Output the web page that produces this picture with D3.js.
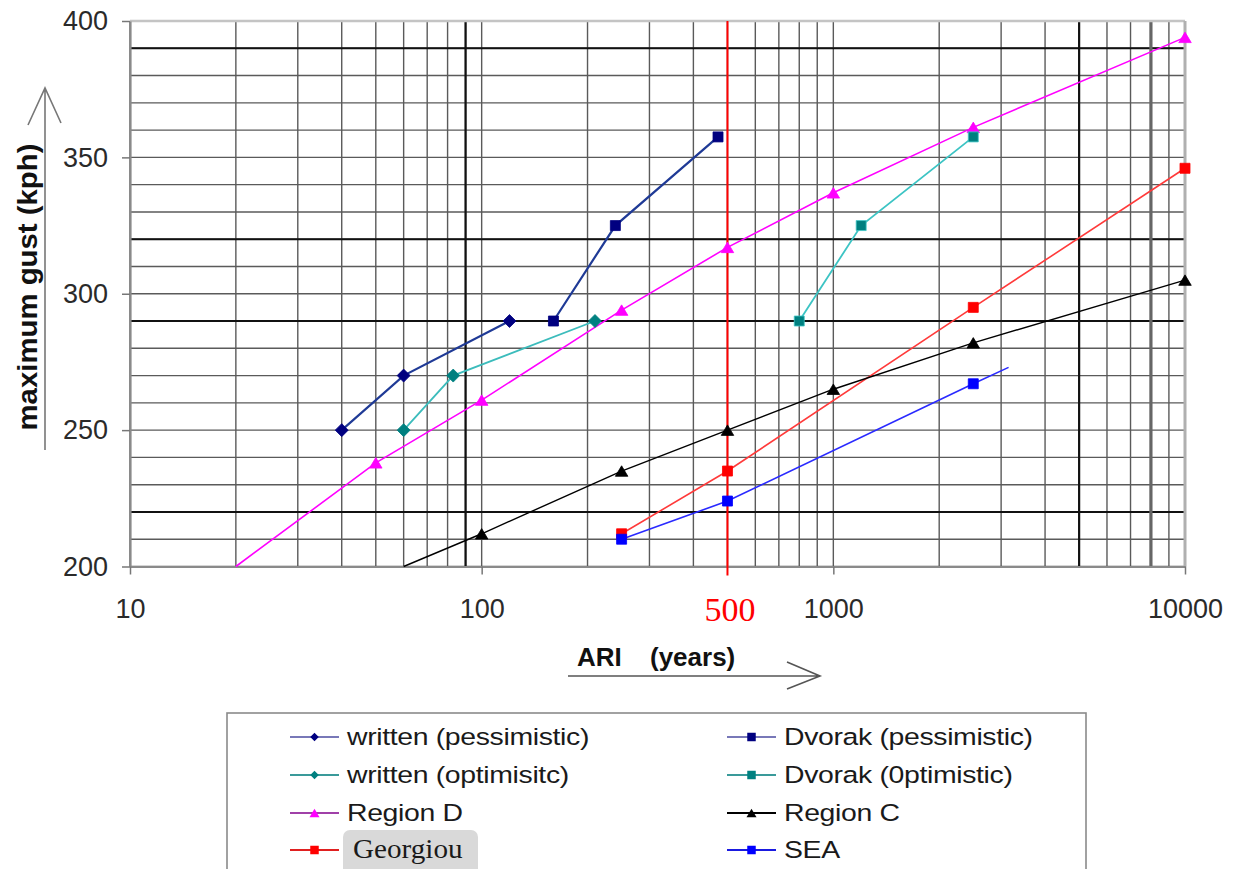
<!DOCTYPE html>
<html>
<head>
<meta charset="utf-8">
<script src="https://cdn.jsdelivr.net/npm/d3@7"></script>
<style>
  html, body { margin: 0; padding: 0; background: #fff; }
  svg { display: block; }
  .sans { font-family: Arial, "Liberation Sans", sans-serif; }
  .serif { font-family: "Times New Roman", "Liberation Serif", serif; }
</style>
</head>
<body>
<svg id="chart" width="1239" height="869"></svg>
<script>
// ARI (years) vs maximum gust (kph)
const writtenPessAri = [40, 60, 120]
const writtenPessGust = [250, 270, 290]
const writtenOptAri = [60, 83, 210]
const writtenOptGust = [250, 270, 290]
const dvorakPessAri = [160, 240, 470]
const dvorakPessGust = [290, 325, 357.5]
const dvorakOptAri = [800, 1200, 2500]
const dvorakOptGust = [290, 325, 357.5]
const regionDAri = [50, 100, 250, 500, 1000, 2500, 10000]
const regionDGust = [238, 261, 294, 317, 337, 361, 394]
const regionCAri = [100, 250, 500, 1000, 2500, 10000]
const regionCGust = [212, 235, 250, 265, 282, 305]
const georgiouAri = [250, 500, 2500, 10000]
const georgiouGust = [212, 235, 295, 346]
const seaAri = [250, 500, 2500]
const seaGust = [210, 224, 267]

// line-only ends (no marker drawn in the figure)
const regionDLead = [20, 200]
const regionCLead = [60, 200]
const seaTrail = [3150, 273]

const yTicks = [200, 250, 300, 350, 400]
const xTicks = [10, 100, 1000, 10000]
const designAri = 500
const heavyGust = [390, 320, 290, 220]
const heavyAri = [90, 5000]
const greyAri = [8000]

const zip = (a, b) => a.map((v, i) => [v, b[i]])

const series = [
    {name: 'written (pessimistic)', pts: zip(writtenPessAri, writtenPessGust), line: '#1f3a96', fill: '#000080', shape: 'diamond', lw: 2.2, legendLine: '#7878b8'},
    {name: 'written (optimisitc)', pts: zip(writtenOptAri, writtenOptGust), line: '#3cbcbc', fill: '#008080', shape: 'diamond', lw: 1.8, legendLine: '#3a9a9a'},
    {name: 'Region D', pts: zip(regionDAri, regionDGust), lead: regionDLead, line: '#ff00ff', fill: '#ff00ff', shape: 'triangle', lw: 1.6, legendLine: '#a040a8'},
    {name: 'Georgiou', pts: zip(georgiouAri, georgiouGust), line: '#ff3a3a', fill: '#ff0000', shape: 'square', lw: 1.6, legendLine: '#e02020', serif: true},
    {name: 'Dvorak (pessimistic)', pts: zip(dvorakPessAri, dvorakPessGust), line: '#1f3a96', fill: '#000080', shape: 'square', lw: 2.2, legendLine: '#7878b8'},
    {name: 'Dvorak (0ptimistic)', pts: zip(dvorakOptAri, dvorakOptGust), line: '#3cc4c4', fill: '#008080', stroke: '#40c8c8', shape: 'square', lw: 1.8, legendLine: '#3a9a9a'},
    {name: 'Region C', pts: zip(regionCAri, regionCGust), lead: regionCLead, line: '#000000', fill: '#000000', shape: 'triangle', lw: 1.4, legendLine: '#000000'},
    {name: 'SEA', pts: zip(seaAri, seaGust), trail: seaTrail, line: '#2a2aff', fill: '#0000ff', shape: 'square', lw: 1.6, legendLine: '#1a1ae0'}
]

const margin = {left: 130, right: 54, top: 21, bottom: 302.5}
const width = 1239
const height = 869
const x0 = margin.left, x1 = width - margin.right
const y0 = margin.top, y1 = height - margin.bottom

const x = d3.scaleLog().domain([10, 10000]).range([x0, x1])
const y = d3.scaleLinear().domain([200, 400]).range([y1, y0])

const svg = d3.select('#chart')

function markerPath(shape, s) {
    if (shape === 'diamond') return `M0,${-s / 2}L${s / 2},0L0,${s / 2}L${-s / 2},0Z`
    if (shape === 'triangle') return `M0,${-s * 0.42}L${s / 2},${s * 0.42}L${-s / 2},${s * 0.42}Z`
    return `M${-s / 2},${-s / 2}H${s / 2}V${s / 2}H${-s / 2}Z`
}
const markerSize = {diamond: 13, triangle: 12.5, square: 10}

// grid
const minorAri = []
for (const d of [10, 100, 1000]) for (let k = 1; k < 10; k++) minorAri.push(d * k)
minorAri.push(10000)
const minorGust = d3.range(200, 401, 10)

const grid = svg.append('g')
grid.selectAll('.vgrid').data(minorAri).enter().append('line')
    .attr('x1', (d) => x(d)).attr('x2', (d) => x(d))
    .attr('y1', y0).attr('y2', y1)
    .attr('stroke', '#5a5a5a').attr('stroke-width', 1.4)
grid.selectAll('.hgrid').data(minorGust).enter().append('line')
    .attr('x1', x0).attr('x2', x1)
    .attr('y1', (d) => y(d)).attr('y2', (d) => y(d))
    .attr('stroke', '#5a5a5a').attr('stroke-width', 1.4)

grid.selectAll('.hheavy').data(heavyGust).enter().append('line')
    .attr('x1', x0).attr('x2', x1)
    .attr('y1', (d) => y(d)).attr('y2', (d) => y(d))
    .attr('stroke', '#111').attr('stroke-width', 2)
grid.selectAll('.vheavy').data(heavyAri).enter().append('line')
    .attr('x1', (d) => x(d)).attr('x2', (d) => x(d))
    .attr('y1', y0).attr('y2', y1)
    .attr('stroke', '#111').attr('stroke-width', 2.2)
grid.selectAll('.vgrey').data(greyAri).enter().append('line')
    .attr('x1', (d) => x(d)).attr('x2', (d) => x(d))
    .attr('y1', y0).attr('y2', y1)
    .attr('stroke', '#666').attr('stroke-width', 3.2)

// frame
svg.append('line').attr('x1', x0).attr('x2', x1).attr('y1', y0).attr('y2', y0)
    .attr('stroke', '#c4c4c4').attr('stroke-width', 2.5)
svg.append('line').attr('x1', x1).attr('x2', x1).attr('y1', y0).attr('y2', y1)
    .attr('stroke', '#b0b0b0').attr('stroke-width', 3)

// axes
const yAxis = svg.append('g').attr('transform', `translate(${x0},0)`)
    .call(d3.axisLeft(y).tickValues(yTicks).tickSize(8).tickSizeOuter(0).tickPadding(14).tickFormat(d3.format('d')))
const xAxis = svg.append('g').attr('transform', `translate(0,${y1})`)
    .call(d3.axisBottom(x).tickValues(xTicks).tickSize(8).tickSizeOuter(0).tickPadding(24).tickFormat(d3.format('d')))
for (const ax of [yAxis, xAxis]) {
    ax.select('.domain').attr('stroke', '#8a8a8a').attr('stroke-width', 2.2)
    ax.selectAll('.tick line').attr('stroke', '#777').attr('stroke-width', 1.5)
    ax.selectAll('.tick text').attr('class', 'sans').attr('font-size', 27).attr('fill', '#2a2a2a')
}

// design ARI marker line
svg.append('line')
    .attr('x1', x(designAri)).attr('x2', x(designAri))
    .attr('y1', y0).attr('y2', y1 + 9)
    .attr('stroke', '#ff0000').attr('stroke-width', 2)
const redAxis = svg.append('g').attr('transform', `translate(0,${y1})`)
    .call(d3.axisBottom(x).tickValues([designAri]).tickSize(0).tickPadding(30).tickFormat(d3.format('d')))
redAxis.select('.domain').remove()
redAxis.selectAll('.tick text').attr('class', 'serif').attr('font-size', 34).attr('fill', '#ff0000')
    .attr('dx', 2)

// series
const lineGen = d3.line().x((d) => x(d[0])).y((d) => y(d[1]))
const plot = svg.append('g')
series.forEach((s) => {
    const all = (s.lead ? [s.lead] : []).concat(s.pts, s.trail ? [s.trail] : [])
    plot.append('path').datum(all)
        .attr('d', lineGen)
        .attr('fill', 'none')
        .attr('stroke', s.line)
        .attr('stroke-width', s.lw)
})
series.forEach((s) => {
    plot.selectAll(null).data(s.pts).enter().append('path')
        .attr('transform', (d) => `translate(${x(d[0])},${y(d[1])})`)
        .attr('d', markerPath(s.shape, markerSize[s.shape]))
        .attr('fill', s.fill)
        .attr('stroke', s.stroke || s.fill)
        .attr('stroke-width', 0.8)
})

// axis titles with arrows
svg.append('text').attr('class', 'sans')
    .attr('transform', 'translate(37,287) rotate(-90)')
    .attr('text-anchor', 'middle')
    .attr('font-size', 27).attr('font-weight', 'bold').attr('fill', '#111')
    .attr('textLength', 287).attr('lengthAdjust', 'spacingAndGlyphs')
    .text('maximum gust  (kph)')
svg.append('path').attr('d', 'M45,450V88M28,125L45,88L61,123')
    .attr('fill', 'none').attr('stroke', '#777').attr('stroke-width', 1.6)

svg.append('text').attr('class', 'sans')
    .attr('x', 577).attr('y', 666)
    .attr('font-size', 26).attr('font-weight', 'bold').attr('fill', '#111')
    .text('ARI')
svg.append('text').attr('class', 'sans')
    .attr('x', 650).attr('y', 666)
    .attr('font-size', 26).attr('font-weight', 'bold').attr('fill', '#111')
    .text('(years)')
svg.append('path').attr('d', 'M568,676H820M787,662L820,676L787,689')
    .attr('fill', 'none').attr('stroke', '#555').attr('stroke-width', 1.6)

// legend
const legend = svg.append('g')
legend.append('rect')
    .attr('x', 227).attr('y', 713).attr('width', 859).attr('height', 180)
    .attr('fill', '#fff').attr('stroke', '#8a8a8a').attr('stroke-width', 1.6)

const cols = [290, 727]
const rowY = [737, 775, 813, 850]
const items = legend.selectAll('.item').data(series).enter().append('g')
    .attr('transform', (d, i) => `translate(${cols[Math.floor(i / 4)]},${rowY[i % 4]})`)
items.append('line').attr('x1', 0).attr('x2', 49)
    .attr('stroke', (d) => d.legendLine).attr('stroke-width', 2)
items.append('path')
    .attr('transform', 'translate(24.5,0)')
    .attr('d', (d) => markerPath(d.shape, d.shape === 'triangle' ? 10 : 8.5))
    .attr('fill', (d) => d.fill)
items.filter((d) => d.serif).append('rect')
    .attr('x', 53).attr('y', -20).attr('width', 135).attr('height', 60).attr('rx', 7)
    .attr('fill', '#d9d9d9')
items.append('text')
    .attr('class', (d) => d.serif ? 'serif' : 'sans')
    .attr('transform', (d) => d.serif ? 'translate(63,8) scale(1.08,1)' : 'translate(57,8) scale(1.16,1)')
    .attr('font-size', (d) => d.serif ? 27 : 24.5)
    .attr('letter-spacing', (d) => d.serif ? 0 : -0.3)
    .attr('fill', '#1a1a1a')
    .text((d) => d.name)
</script>
</body>
</html>
